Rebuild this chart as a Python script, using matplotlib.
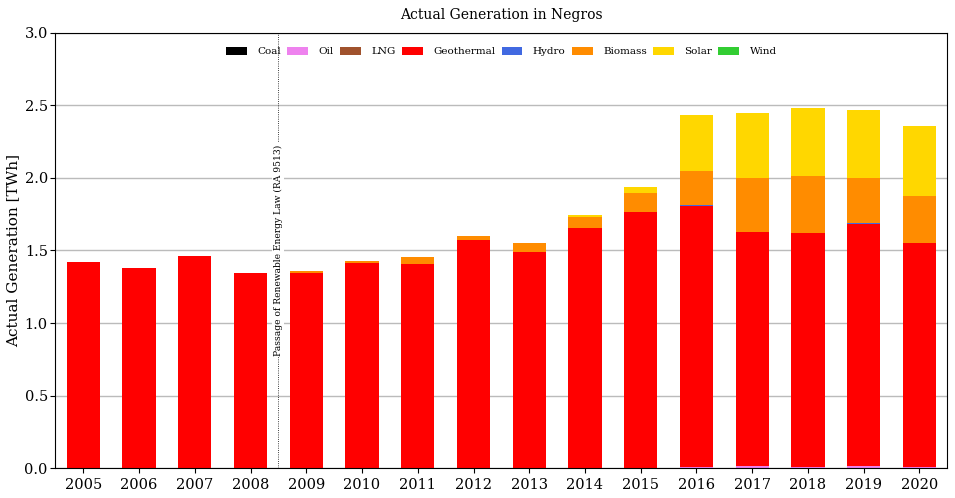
import numpy as np
import matplotlib.pyplot as plt

plt.rcParams['font.family'] = ['DejaVu Serif']

years = ['2005', '2006', '2007', '2008', '2009', '2010', '2011', '2012',
         '2013', '2014', '2015', '2016', '2017', '2018', '2019', '2020']

# TWh by source (stack order bottom -> top)
coal = [0] * 16
oil = [0, 0, 0, 0, 0, 0, 0, 0, 0, 0, 0, 0.005, 0.014, 0.005, 0.014, 0.005]
lng = [0] * 16
geothermal = [1.421, 1.379, 1.462, 1.345, 1.345, 1.414, 1.407, 1.572,
              1.490, 1.655, 1.766, 1.802, 1.614, 1.616, 1.669, 1.547]
hydro = [0, 0, 0, 0, 0, 0, 0, 0, 0, 0, 0, 0.007, 0, 0, 0.007, 0]
biomass = [0, 0, 0, 0, 0.014, 0.014, 0.048, 0.028, 0.062, 0.076, 0.131,
           0.234, 0.372, 0.393, 0.310, 0.324]
solar = [0, 0, 0, 0, 0, 0, 0, 0, 0, 0.014, 0.041, 0.386, 0.448, 0.469,
         0.469, 0.483]
wind = [0] * 16

sources = ['Coal', 'Oil', 'LNG', 'Geothermal', 'Hydro', 'Biomass', 'Solar', 'Wind']
colors = ['black', 'violet', 'sienna', 'red', 'royalblue', 'darkorange', 'gold', 'limegreen']
series = [coal, oil, lng, geothermal, hydro, biomass, solar, wind]

fig = plt.figure(figsize=(9.55, 4.98), dpi=100)
ax = fig.add_axes([0.058, 0.06, 0.934, 0.874])

x = np.arange(len(years))
bottom = np.zeros(len(years))
for name, col, vals in zip(sources, colors, series):
    vals = np.array(vals, dtype=float)
    ax.bar(x, vals, width=0.6, bottom=bottom, color=col, label=name, zorder=2)
    bottom += vals

ax.set_xlim(-0.5, 15.5)
ax.set_ylim(0, 3.0)
ax.set_yticks(np.arange(0, 3.01, 0.5))
ax.set_xticks(x)
ax.set_xticklabels(years)
ax.tick_params(labelsize=10.5)
ax.tick_params(axis='y', pad=2)
ax.yaxis.grid(True, color='#bbbbbb', lw=1, zorder=0)
ax.set_axisbelow(True)

ax.set_ylabel('Actual Generation [TWh]', fontsize=11, labelpad=3)
ax.set_title('Actual Generation in Negros', fontsize=10, pad=10)

# RA 9513 marker
ax.axvline(3.5, color='black', ls=':', lw=0.6, zorder=3)
ax.text(3.5, 1.5, 'Passage of Renewable Energy Law (RA 9513)', rotation=90,
        ha='center', va='center', fontsize=6.6,
        bbox=dict(facecolor='white', edgecolor='none', pad=1), zorder=4)

ax.legend(loc='upper center', ncol=8, frameon=False, fontsize=7.5,
          handlelength=2.0, handleheight=0.8, handletextpad=1.0,
          columnspacing=0.6, bbox_to_anchor=(0.5, 0.99))

fig.savefig('out.png', dpi=100)
